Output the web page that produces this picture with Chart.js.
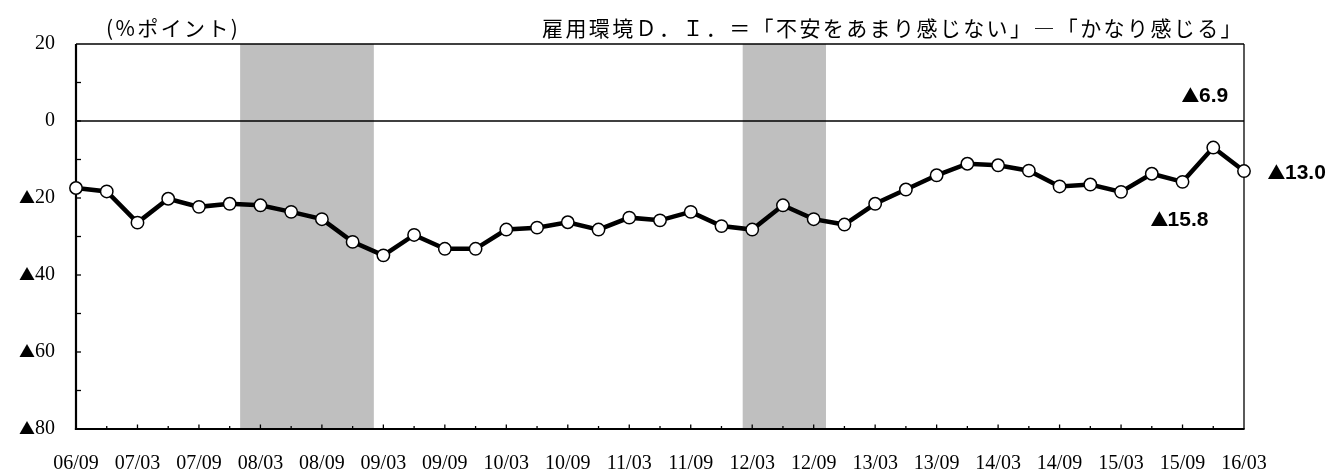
<!DOCTYPE html>
<html><head><meta charset="utf-8">
<script src="https://cdn.jsdelivr.net/npm/chart.js@4.4.1/dist/chart.umd.min.js"></script>
<style>
@font-face { font-family: 'Tri'; src: local('Noto Sans CJK JP'), local('Noto Sans CJK JP Regular'), local('NotoSansCJKjp-Regular'), local('NotoSansCJKJP-Regular'), local('DejaVu Sans'); unicode-range: U+25B2; size-adjust: 80%; }
html,body{margin:0;padding:0;background:#fff;}#wrap{width:1333px;height:475px;position:relative;}
</style>
</head><body><div id="wrap"><canvas id="c"></canvas></div>
<script>
const categories = ['06/09','06/12','07/03','07/06','07/09','07/12','08/03','08/06','08/09','08/12','09/03','09/06','09/09','09/12','10/03','10/06','10/09','10/12','11/03','11/06','11/09','11/12','12/03','12/06','12/09','12/12','13/03','13/06','13/09','13/12','14/03','14/06','14/09','14/12','15/03','15/06','15/09','15/12','16/03'];
const diValues = [-17.4,-18.3,-26.4,-20.2,-22.3,-21.5,-21.9,-23.6,-25.5,-31.4,-34.9,-29.6,-33.2,-33.2,-28.2,-27.7,-26.3,-28.2,-25.1,-25.8,-23.6,-27.3,-28.2,-21.9,-25.5,-26.9,-21.5,-17.8,-14.1,-11.1,-11.5,-12.9,-17.0,-16.5,-18.4,-13.7,-15.8,-6.9,-13.0];
const yTickValues = [20, 0, -20, -40, -60, -80];
const yTickLabels = ['20', '0', '▲20', '▲40', '▲60', '▲80'];
const shadeStart = [5.34, 21.69];
const shadeEnd = [9.69, 24.4];
const calloutIndex = [37, 38, 36];
const calloutText = ['▲6.9', '▲13.0', '▲15.8'];
const unitLabel = '(%ポイント)';
const defLabel = '雇用環境Ｄ．Ｉ．＝「不安をあまり感じない」―「かなり感じる」';

const SERIF = "Tri, 'Liberation Serif', 'Noto Sans CJK JP', serif";
const JP = "'Noto Sans CJK JP', sans-serif";
const BOLD = "Tri, 'Liberation Sans Narrow', 'Liberation Sans', 'Noto Sans CJK JP', sans-serif";

function seg(ctx, x0, y0, x1, y1) { ctx.beginPath(); ctx.moveTo(x0, y0); ctx.lineTo(x1, y1); ctx.stroke(); }

const decor = {
  id: 'decor',
  beforeDatasetsDraw(chart) {
    const { ctx, chartArea: a, scales: { x, y } } = chart;
    ctx.save();
    ctx.fillStyle = '#bfbfbf';
    for (let i = 0; i < shadeStart.length; i++) {
      const x0 = x.getPixelForValue(shadeStart[i]);
      const x1 = x.getPixelForValue(shadeEnd[i]);
      ctx.fillRect(x0, a.top, x1 - x0, a.bottom - a.top);
    }
    ctx.strokeStyle = '#000';
    ctx.lineWidth = 1.3;
    const y0 = y.getPixelForValue(0);
    seg(ctx, a.left, y0, a.right, y0);
    seg(ctx, a.left, a.top, a.right, a.top);
    seg(ctx, a.right, a.top, a.right, a.bottom);
    ctx.lineWidth = 2.2;
    seg(ctx, a.left, a.top, a.left, a.bottom + 1.1);
    seg(ctx, a.left - 1.1, a.bottom, a.right + 0.6, a.bottom);
    ctx.lineWidth = 1.3;
    for (let i = 1; i < categories.length - 1; i++) {
      const px = x.getPixelForValue(i);
      const len = i % 2 === 0 ? 4.5 : 3;
      seg(ctx, px, a.bottom, px, a.bottom - len);
    }
    for (let v = -70; v < 20; v += 10) {
      const py = y.getPixelForValue(v);
      seg(ctx, a.left, py, a.left + 5, py);
    }
    ctx.restore();
  },
  afterDatasetsDraw(chart) {
    const { ctx } = chart;
    const meta = chart.getDatasetMeta(0);
    const offs = { 37: [15, -51, 'right'], 38: [24, 2, 'left'], 36: [-3, 38, 'center'] };
    ctx.save();
    ctx.fillStyle = '#000';
    ctx.font = 'bold 21px ' + BOLD;
    ctx.textBaseline = 'middle';
    calloutIndex.forEach((idx, k) => {
      const p = meta.data[idx];
      const o = offs[idx];
      ctx.textAlign = o[2];
      ctx.fillText(calloutText[k], p.x + o[0], p.y + o[1]);
    });
    ctx.restore();
  },
  afterDraw(chart) {
    const { ctx } = chart;
    ctx.save();
    ctx.fillStyle = '#000';
    ctx.textBaseline = 'middle';
    ctx.textAlign = 'left';
    ctx.font = '21px ' + JP;
    ctx.letterSpacing = '2.4px';
    ctx.fillText(unitLabel, 106, 28);
    ctx.fillText(defLabel, 542, 28);
    ctx.letterSpacing = '0px';
    ctx.restore();
  }
};

function build() {
  new Chart(document.getElementById('c'), {
    type: 'line',
    data: {
      labels: categories,
      datasets: [{
        data: diValues,
        borderColor: '#000',
        borderWidth: 4.5,
        pointRadius: 6.2,
        pointBorderWidth: 1.5,
        pointBackgroundColor: '#fff',
        pointBorderColor: '#000',
        tension: 0,
        clip: false
      }]
    },
    options: {
      responsive: true,
      maintainAspectRatio: false,
      animation: false,
      devicePixelRatio: 1,
      layout: { padding: { left: 0, right: 89, top: 44, bottom: 0 } },
      plugins: { legend: { display: false }, tooltip: { enabled: false } },
      scales: {
        x: {
          type: 'category',
          offset: false,
          grid: { display: false, drawTicks: false },
          border: { display: false },
          ticks: {
            autoSkip: false, maxRotation: 0, minRotation: 0, padding: 23, color: '#000',
            font: { family: SERIF, size: 20 },
            callback: (v, i) => (i % 2 === 0 ? categories[i] : '')
          },
          afterFit: s => { s.height = 46; }
        },
        y: {
          min: -80, max: 20,
          grid: { display: false, drawTicks: false },
          border: { display: false },
          ticks: {
            stepSize: 10, padding: 21, color: '#000',
            font: { family: SERIF, size: 20 },
            callback: v => { const k = yTickValues.indexOf(v); return k >= 0 ? yTickLabels[k] : ''; }
          },
          afterFit: s => { s.width = 76; }
        }
      }
    },
    plugins: [decor]
  });
}

let built = false;
function go() { if (!built) { built = true; build(); } }
Promise.all([
  document.fonts.load('20px Tri', '▲'),
  document.fonts.load('bold 21px Tri', '▲'),
  document.fonts.load("21px 'Noto Sans CJK JP'", '雇用')
]).then(go, go);
setTimeout(go, 1500);
</script>
</body></html>
